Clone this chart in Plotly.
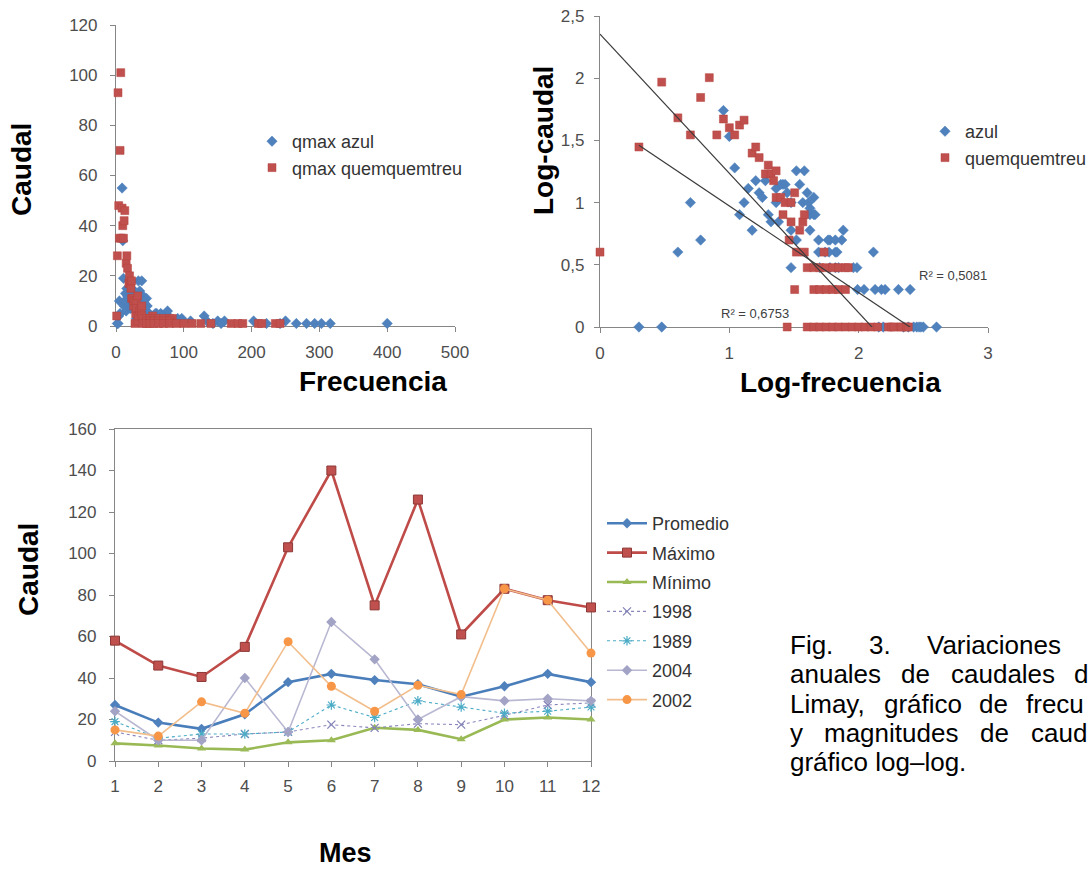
import numpy as np
import plotly.graph_objects as go

W, H = 1090, 869

# ---------------- Data: frequency vs discharge (top charts) ----------------
azul_frec = [2, 3, 4, 5, 6, 9, 10, 11, 12, 13,
             14, 15, 16, 17, 18, 19, 20, 21, 23, 23,
             26, 28, 30, 30, 33, 33, 35, 37, 40, 42,
             42, 45, 45, 42, 49, 60, 74, 76, 49, 55,
             66, 50, 66, 130, 91, 97, 98, 110, 134, 150,
             160, 203, 250, 143, 155, 222, 242, 266, 281, 293,
             303, 316, 400, 38, 25, 27, 30, 41, 46, 24,
             58, 66, 59, 68, 60, 70]
azul_caudal = [1, 1, 4, 10, 5, 55, 34, 19, 8, 10,
               13, 6, 15, 12, 11, 15, 8, 7, 10, 13,
               14, 12, 6, 3, 5, 18, 14, 10, 12, 9,
               8, 11, 8, 6, 5, 5, 5, 6, 4, 4,
               4, 3, 3, 4, 3, 3, 2, 2, 2, 2,
               2, 2, 2, 1, 1, 1, 1, 1, 1, 1,
               1, 1, 1, 18, 14, 14, 10, 10, 8, 7,
               5, 5, 4, 4, 3, 3]

quem_frec = [1, 2, 3, 4, 5, 6, 7, 8, 9, 10,
             11, 12, 13, 15, 16, 17, 19, 20, 21, 22,
             23, 23, 25, 26, 27, 28, 29, 30, 30, 32,
             32, 33, 35, 37, 38, 38, 54,
             40, 45, 50, 56, 63, 70, 79, 83,
             45, 50, 56, 63, 70, 79,
             40, 45, 50, 56, 63, 70, 79, 89, 100, 112,
             125, 140, 170, 180, 187, 210, 215, 235, 242]
quem_caudal = [4, 28, 93, 48, 35, 70, 101, 35, 47, 40,
               35, 42, 46, 25, 28, 23, 17, 20, 17, 15,
               18, 11, 11, 8, 10, 1, 5, 10, 7, 12,
               2, 4, 6, 7, 8, 4, 4,
               3, 3, 3, 3, 3, 3, 3, 3,
               2, 2, 2, 2, 2, 2,
               1, 1, 1, 1, 1, 1, 1, 1, 1, 1,
               1, 1, 1, 1, 1, 1, 1, 1, 1]

# linear trend lines in log-log space (Excel trendlines)
trend_names = ["azul", "quemquemtreu"]
trend_slope = [-0.697, -1.12]
trend_intercept = [1.67, 2.355]
trend_r2 = ["R² = 0,5081", "R² = 0,6753"]

# ---------------- Data: monthly discharge (bottom chart) ----------------
meses = [1, 2, 3, 4, 5, 6, 7, 8, 9, 10, 11, 12]
promedio = [27, 18.5, 15.5, 22.5, 38, 42, 39, 37, 31, 36, 42, 38]
maximo = [58, 46, 40.5, 55, 103, 140, 75, 126, 61, 83, 77.5, 74]
minimo = [8.5, 7.5, 6, 5.5, 9, 10, 16, 15, 10.5, 20, 21, 20]
y1998 = [14, 10, 11, 13, 14, 17.5, 16, 18, 17.5, 22, 27, 28]
y1989 = [19, 11, 13, 13, 14, 27, 21, 29, 26, 23, 24, 26]
y2004 = [24, 10, 10, 40, 14, 67, 49, 20, 31, 29, 30, 29]
y2002 = [15, 12, 28.5, 23, 57.5, 36, 24, 36.5, 32, 83, 77.5, 52]

assert len(azul_frec) == len(azul_caudal)
assert len(quem_frec) == len(quem_caudal)

# ---------------- Styling ----------------
FONT = "Liberation Sans, Arial, sans-serif"
AX_COL = "#868686"
TICK_FONT = dict(family=FONT, size=17, color="#4d4d4d")
LEG_FONT = dict(family=FONT, size=18, color="#333333")
BLUE = "#4F81BD"
RED = "#C0504D"


def dom_x(a, b):
    return [a / W, b / W]


def dom_y(top, bottom):
    return [1 - bottom / H, 1 - top / H]


fig = go.Figure()

# top-left: linear scatter
fig.add_trace(go.Scatter(
    x=azul_frec, y=azul_caudal, mode="markers", name="qmax azul",
    marker=dict(symbol="diamond", size=8, color=BLUE, line=dict(color="#4A7EBB", width=0.5)),
    xaxis="x", yaxis="y", legend="legend2", legendgroup="a1", cliponaxis=False))
fig.add_trace(go.Scatter(
    x=quem_frec, y=quem_caudal, mode="markers", name="qmax quemquemtreu",
    marker=dict(symbol="square", size=8, color=RED, line=dict(color="#B5433F", width=0.5)),
    xaxis="x", yaxis="y", legend="legend2", legendgroup="a2", cliponaxis=False))

# top-right: log-log scatter
lfa = np.log10(np.array(azul_frec, dtype=float))
lqa = np.log10(np.array(azul_caudal, dtype=float))
lfq = np.log10(np.array(quem_frec, dtype=float))
lqq = np.log10(np.array(quem_caudal, dtype=float))
fig.add_trace(go.Scatter(
    x=lfa, y=lqa, mode="markers", name="azul",
    marker=dict(symbol="diamond", size=8, color=BLUE, line=dict(color="#4A7EBB", width=0.5)),
    xaxis="x2", yaxis="y2", legend="legend3", legendgroup="b1", cliponaxis=False))
fig.add_trace(go.Scatter(
    x=lfq, y=lqq, mode="markers", name="quemquemtreu",
    marker=dict(symbol="square", size=8, color=RED, line=dict(color="#B5433F", width=0.5)),
    xaxis="x2", yaxis="y2", legend="legend3", legendgroup="b2", cliponaxis=False))

ranges = [(lfa.min(), lfa.max()), (lfq.min(), lfq.max())]
for (x0, x1), s, b in zip(ranges, trend_slope, trend_intercept):
    xs = np.array([x0, x1])
    fig.add_trace(go.Scatter(
        x=xs, y=b + s * xs, mode="lines", showlegend=False, hoverinfo="skip",
        line=dict(color="#3a3a3a", width=1.2), xaxis="x2", yaxis="y2"))

# bottom: monthly lines
bottom_series = [
    ("Promedio", promedio, dict(color="#4A7EBB", width=2.6), dict(symbol="diamond", size=8, color=BLUE)),
    ("Máximo", maximo, dict(color="#BE4B48", width=2.6),
     dict(symbol="square", size=9, color=RED, line=dict(color="#8C3836", width=1))),
    ("Mínimo", minimo, dict(color="#98B954", width=2.6), dict(symbol="triangle-up", size=8, color="#9BBB59")),
    ("1998", y1998, dict(color="#8A86BC", width=1.1, dash="dot"),
     dict(symbol="x-thin-open", size=8, color="#7F7FB5", line=dict(color="#7F7FB5", width=1.2))),
    ("1989", y1989, dict(color="#4BACC6", width=1.1, dash="dot"),
     dict(symbol="asterisk-open", size=8, color="#4BACC6", line=dict(color="#4BACC6", width=1.2))),
    ("2004", y2004, dict(color="#B8B8D2", width=1.6), dict(symbol="diamond", size=8, color="#A3A3C6")),
    ("2002", y2002, dict(color="#F2BE8C", width=1.6), dict(symbol="circle", size=9, color="#F79646")),
]
for i, (nm, vals, ln, mk) in enumerate(bottom_series):
    fig.add_trace(go.Scatter(
        x=meses, y=vals, mode="lines+markers", name=nm, line=ln, marker=mk,
        xaxis="x3", yaxis="y3", legend="legend", legendgroup="c%d" % i, cliponaxis=False))

axis_common = dict(showline=True, linecolor=AX_COL, linewidth=1.2, ticks="outside", ticklen=5,
                   tickcolor=AX_COL, showgrid=False, zeroline=False, tickfont=TICK_FONT,
                   layer="below traces", fixedrange=True)

fig.update_layout(
    width=W, height=H,
    margin=dict(l=0, r=0, t=0, b=0, autoexpand=False),
    paper_bgcolor="white", plot_bgcolor="white",
    separators=", ",
    font=dict(family=FONT, color="#333333"),
    xaxis=dict(domain=dom_x(116, 455), range=[0, 500], dtick=100, anchor="y",
               ticklabelstandoff=5, **axis_common),
    yaxis=dict(domain=dom_y(25, 326), range=[0, 120], dtick=20, anchor="x",
               ticklabelstandoff=9, **axis_common),
    xaxis2=dict(domain=dom_x(600, 988), range=[0, 3], dtick=1, anchor="y2",
                ticklabelstandoff=5, **axis_common),
    yaxis2=dict(domain=dom_y(16, 327), range=[0, 2.5], dtick=0.5, tickformat=".1~f", anchor="x2",
                ticklabelstandoff=6, **axis_common),
    xaxis3=dict(domain=dom_x(115, 591), range=[1, 12], dtick=1, anchor="y3", mirror=True,
                ticklabelstandoff=4, **axis_common),
    yaxis3=dict(domain=dom_y(429, 761), range=[0, 160], dtick=20, anchor="x3", mirror=True,
                ticklabelstandoff=9, **axis_common),
    legend=dict(x=602 / W, y=1 - 505 / H, xanchor="left", yanchor="top", font=LEG_FONT,
                itemwidth=40, traceorder="grouped", tracegroupgap=3, bgcolor="rgba(0,0,0,0)"),
    legend2=dict(x=252 / W, y=1 - 123 / H, xanchor="left", yanchor="top", font=LEG_FONT,
                 traceorder="grouped", tracegroupgap=0, bgcolor="rgba(0,0,0,0)"),
    legend3=dict(x=925 / W, y=1 - 113 / H, xanchor="left", yanchor="top", font=LEG_FONT,
                 traceorder="grouped", tracegroupgap=0, bgcolor="rgba(0,0,0,0)"),
    showlegend=True,
)


def ann(text, x, y, size=28, bold=True, angle=0, xanchor="center", color="#000000"):
    fig.add_annotation(text=text, x=x / W, y=1 - y / H, xref="paper", yref="paper",
                       showarrow=False, textangle=angle, xanchor=xanchor, yanchor="middle",
                       font=dict(family=FONT, size=size, color=color,
                                 weight="bold" if bold else "normal"))


# axis titles
ann("Caudal", 22, 170, angle=-90)
ann("Frecuencia", 373, 381)
ann("Log-caudal", 543, 141, angle=-90)
ann("Log-frecuencia", 840, 382)
ann("Caudal", 28, 570, angle=-90)
ann("Mes", 345, 853, size=27)

# R² labels
ann(trend_r2[1], 755, 313, size=13, bold=False, color="#404040")
ann(trend_r2[0], 953, 275, size=13, bold=False, color="#404040")

# caption: visible part of a justified paragraph that runs past the page edge
caption_words = [
    [("Fig.", 788), ("3.", 867), ("Variaciones", 925)],
    [("anuales", 788), ("de", 899), ("caudales", 949), ("d", 1072)],
    [("Limay,", 788), ("gráfico", 882), ("de", 977), ("frecu", 1024)],
    [("y", 788), ("magnitudes", 822), ("de", 978), ("caud", 1029)],
    [("gráfico log–log.", 788)],
]
line_y = [645, 674, 704, 733, 762]
for words, yy in zip(caption_words, line_y):
    for w, xx in words:
        ann(w, xx, yy, size=26, bold=False, xanchor="left")

fig.write_html("out.html")
